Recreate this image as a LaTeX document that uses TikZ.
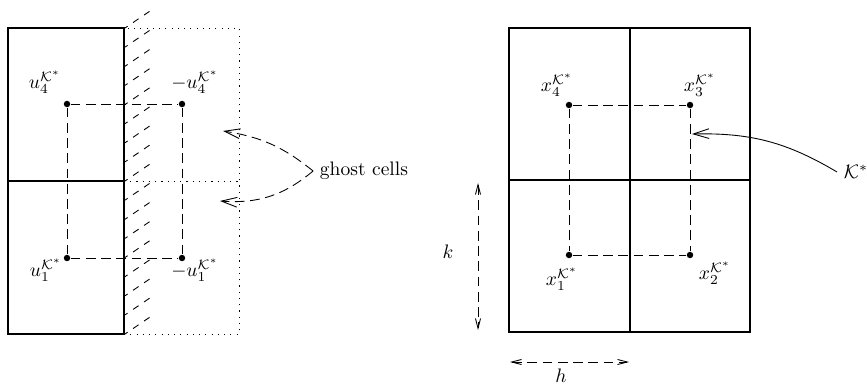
\documentclass[tikz,border=0pt]{standalone}
\usetikzlibrary{arrows.meta}
\tikzset{
  gtip/.tip={Straight Barb[length=8pt,width=5pt]},
  dtip/.tip={Straight Barb[length=5pt,width=2.6pt]}
}
\begin{document}
\begin{tikzpicture}[x=0.018cm,y=-0.018cm,
  cella/.style={line width=0.9pt},
  fantasma/.style={line width=0.45pt,dash pattern=on 0.6pt off 2.6pt},
  tratto/.style={line width=0.45pt,dash pattern=on 5pt off 2.8pt},
  tratteggio/.style={line width=0.45pt,dash pattern=on 3.4pt off 3.4pt,dash phase=1.8pt},
  punto/.style={circle,fill,inner sep=0pt,minimum size=3.3pt}]
  \useasboundingbox (0,0) rectangle (867,387);

  % Celle (sinistra)
  \draw[cella] (8,28) rectangle (124,334);
  \draw[cella] (8,181) -- (124,181);
  \draw[fantasma] (124,28) rectangle (239,334);
  \draw[fantasma] (124,181) -- (239,181);
  \foreach \i in {0,...,16}
    \draw[tratteggio] (125,{28+19.125*\i}) -- ++(28,-19);

  % Celle (destra)
  \draw[cella] (509,28) rectangle (750,332);
  \draw[cella] (509,180) -- (750,180);
  \draw[cella] (630,28) -- (630,332);

  % Nodi
  \node[punto] (u4) at (67,104) {};
  \node[punto] (mu4) at (182,104) {};
  \node[punto] (u1) at (67,258) {};
  \node[punto] (mu1) at (182,258) {};
  \node[punto] (x4) at (569,105) {};
  \node[punto] (x3) at (690,105) {};
  \node[punto] (x1) at (569,255) {};
  \node[punto] (x2) at (690,255) {};

  \node at (45,82) {$u_4^{\mathcal{K}^*}$};
  \node at (195,82) {$-u_4^{\mathcal{K}^*}$};
  \node at (46,270) {$u_1^{\mathcal{K}^*}$};
  \node at (195,270) {$-u_1^{\mathcal{K}^*}$};
  \node at (557,85) {$x_4^{\mathcal{K}^*}$};
  \node at (700,85) {$x_3^{\mathcal{K}^*}$};
  \node at (562,279) {$x_1^{\mathcal{K}^*}$};
  \node at (715,273) {$x_2^{\mathcal{K}^*}$};

  \node (ghost) at (364,171) {ghost cells};
  \node (kappa) at (856,172) {$\mathcal{K}^*$};
  \node (k) at (448,252) {$k$};
  \node (h) at (561,376) {$h$};

  \coordinate (gsu) at (223,131);
  \coordinate (ggiu) at (220,201);
  \coordinate (bersaglio) at (692,134);
  \coordinate (ksu) at (478,183);
  \coordinate (kgiu) at (478,330);
  \coordinate (hsx) at (510,362);
  \coordinate (hdx) at (629,362);

  % Linee tratteggiate
  \draw[tratto] (u4) -- (mu4);
  \draw[tratto] (u1) -- (mu1);
  \draw[tratto] (u4) -- (u1);
  \draw[tratto] (mu4) -- (mu1);
  \draw[tratto] (x4) -- (x3);
  \draw[tratto] (x1) -- (x2);
  \draw[tratto] (x4) -- (x1);
  \draw[tratto] (x3) -- (x2);

  % Frecce
  \draw[tratto,-gtip] (ghost.west) to[bend right=15] (gsu);
  \draw[tratto,-gtip] (ghost.west) to[bend left=22] (ggiu);
  \draw[line width=0.45pt,-gtip] (kappa.west) to[bend right=16] (bersaglio);
  \draw[tratto,dtip-dtip] (ksu) -- (kgiu);
  \draw[tratto,dtip-dtip] (hsx) -- (hdx);
\end{tikzpicture}
\end{document}
